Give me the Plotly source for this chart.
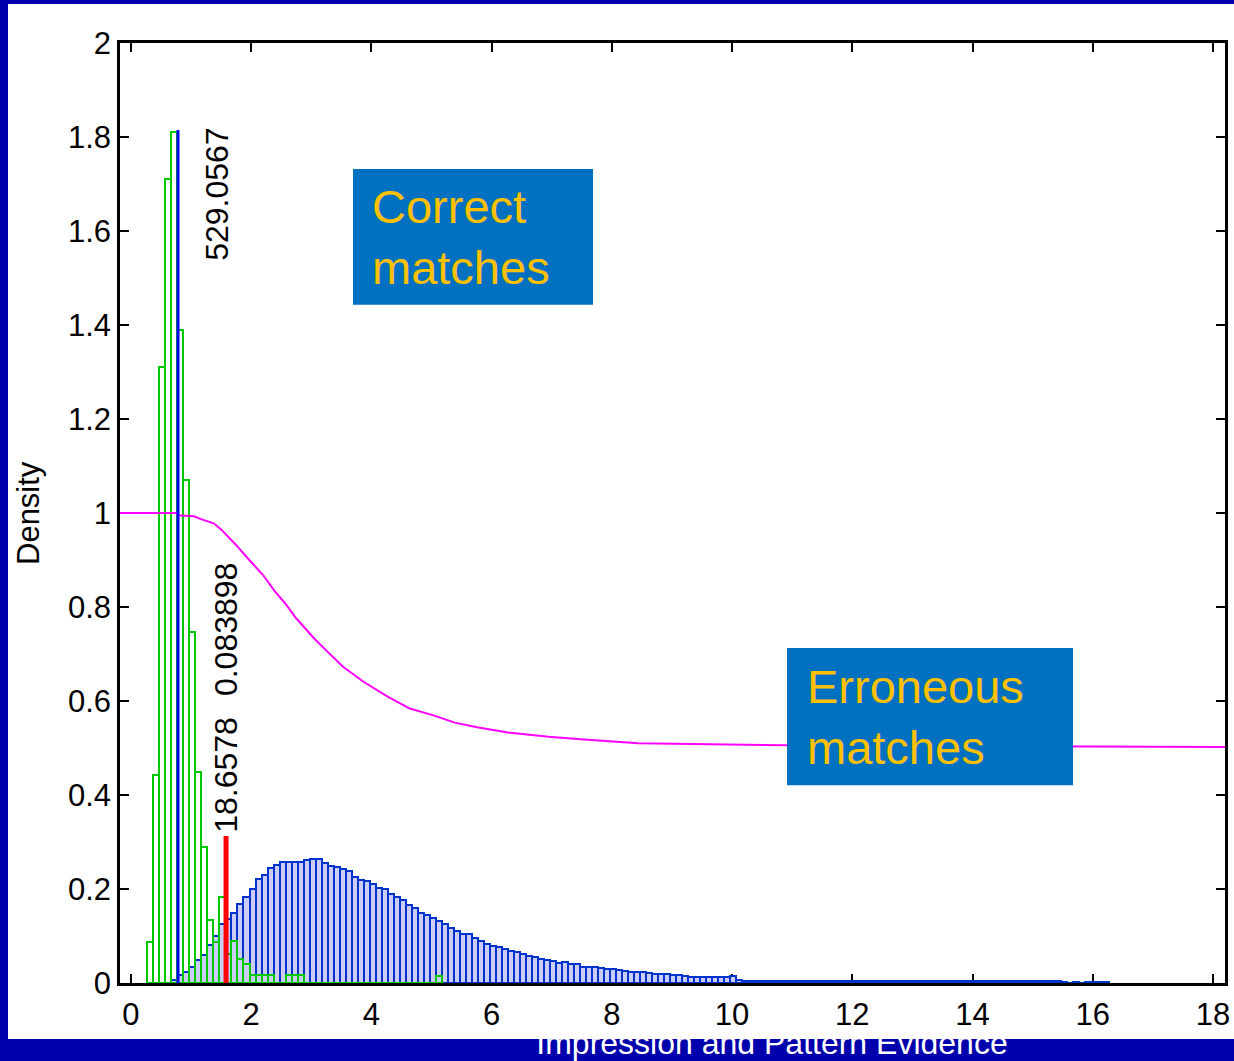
import plotly.graph_objects as go

W, H = 1234, 1061
FONT = "Liberation Sans, Arial, sans-serif"

# ---------------- data ----------------
# Correct matches histogram (green outlines), bin width 0.1 starting at centre 0.324
green_start = 0.324
green_width = 0.1
green_vals = [0.088, 0.443, 1.31, 1.71, 1.81, 1.39, 1.07, 0.746, 0.45, 0.29,
              0.133, 0.088, 0.182, 0.062, 0.09, 0.052, 0.04, 0.018, 0.018, 0.018,
              0.018, 0.0, 0.0, 0.018, 0.018, 0.018, 0.0, 0.0, 0.0, 0.0,
              0.0, 0.0, 0.0, 0.0, 0.0, 0.0, 0.0, 0.0, 0.0, 0.0,
              0.0, 0.0, 0.0, 0.0, 0.0, 0.0, 0.0, 0.0, 0.015]

# Erroneous matches histogram (blue filled), bin width 0.1 starting at centre 0.724
blue_start = 0.724
blue_width = 0.1
blue_vals = [0.006, 0.017, 0.024, 0.035, 0.05, 0.06, 0.08, 0.10, 0.125, 0.137,
             0.15, 0.168, 0.183, 0.2, 0.222, 0.229, 0.244, 0.252, 0.257, 0.258,
             0.258, 0.258, 0.262, 0.263, 0.263, 0.255, 0.25, 0.247, 0.243, 0.239,
             0.225, 0.219, 0.218, 0.21, 0.203, 0.199, 0.19, 0.184, 0.176, 0.166,
             0.159, 0.15, 0.144, 0.138, 0.131, 0.125, 0.116, 0.11, 0.105, 0.104,
             0.095, 0.089, 0.084, 0.078, 0.077, 0.072, 0.068, 0.066, 0.061, 0.057,
             0.055, 0.052, 0.049, 0.046, 0.043, 0.045, 0.04, 0.04, 0.034, 0.033,
             0.033, 0.031, 0.029, 0.029, 0.028, 0.025, 0.024, 0.024, 0.023, 0.021,
             0.019, 0.019, 0.019, 0.018, 0.018, 0.014, 0.013, 0.013, 0.013, 0.013,
             0.013, 0.013, 0.012, 0.014, 0.006, 0.004, 0.004, 0.004, 0.004, 0.004,
             0.004, 0.004, 0.004, 0.004, 0.004, 0.004, 0.004, 0.004, 0.004, 0.004,
             0.004, 0.004, 0.004, 0.004, 0.004, 0.004, 0.004, 0.004, 0.004, 0.004,
             0.004, 0.004, 0.004, 0.004, 0.004, 0.004, 0.004, 0.004, 0.004, 0.004,
             0.004, 0.004, 0.004, 0.004, 0.004, 0.004, 0.004, 0.004, 0.004, 0.004,
             0.004, 0.004, 0.004, 0.004, 0.004, 0.004, 0.004, 0.004, 0.003, 0.0,
             0.003, 0.0, 0.003, 0.003, 0.003, 0.003]

# Magenta ratio curve
curve_x = [-0.18, 0.77, 0.78, 1.05, 1.19, 1.38, 1.51, 1.75, 1.97, 2.20, 2.38, 2.565,
           2.75, 3.05, 3.27, 3.53, 3.87, 4.28, 4.64, 5.02, 5.39, 5.76, 6.27, 6.95,
           7.54, 8.44, 10.88, 18.2]
curve_y = [1.0, 1.0, 0.995, 0.993, 0.986, 0.978, 0.964, 0.932, 0.900, 0.868, 0.836, 0.808,
           0.776, 0.733, 0.705, 0.673, 0.641, 0.609, 0.584, 0.570, 0.554, 0.544, 0.533, 0.524,
           0.518, 0.510, 0.506, 0.502]

# Vertical markers
blue_line_x = [0.785, 0.785]
blue_line_y = [0.0, 1.815]
red_line_x = [1.584, 1.584]
red_line_y = [0.0, 0.313]

# Rotated labels
label_texts = ["529.0567", "0.083898", "18.6578"]
label_x = [1.434, 1.584, 1.584]
label_y = [1.677, 0.751, 0.443]

x_ticks = [0, 2, 4, 6, 8, 10, 12, 14, 16, 18]
y_ticks = [0, 0.2, 0.4, 0.6, 0.8, 1, 1.2, 1.4, 1.6, 1.8, 2]
y_ticktext = ["0", "0.2", "0.4", "0.6", "0.8", "1", "1.2", "1.4", "1.6", "1.8", "2"]

footer_text = "Impression and Pattern Evidence"

# ---------------- figure ----------------
fig = go.Figure()

fig.add_trace(go.Bar(
    x0=blue_start, dx=blue_width, y=blue_vals, width=blue_width,
    marker=dict(color="#CCCCF8", line=dict(color="#0033CC", width=2)),
    showlegend=False, hoverinfo="skip"))

fig.add_trace(go.Bar(
    x0=green_start, dx=green_width, y=green_vals, width=green_width,
    marker=dict(color="rgba(0,0,0,0)", line=dict(color="#00C800", width=2)),
    showlegend=False, hoverinfo="skip"))

fig.add_trace(go.Scatter(
    x=curve_x, y=curve_y, mode="lines",
    line=dict(color="#FF00FF", width=2), showlegend=False, hoverinfo="skip"))

fig.add_trace(go.Scatter(
    x=blue_line_x, y=blue_line_y, mode="lines",
    line=dict(color="#0000FF", width=3), showlegend=False, hoverinfo="skip"))

fig.add_trace(go.Scatter(
    x=red_line_x, y=red_line_y, mode="lines",
    line=dict(color="#FF0000", width=5), showlegend=False, hoverinfo="skip"))

# footer text, clipped by its own small subplot
fig.add_trace(go.Scatter(
    x=[772], y=[1046], mode="text", text=[footer_text],
    textfont=dict(family=FONT, size=32, color="white"),
    textposition="middle center", cliponaxis=True,
    xaxis="x2", yaxis="y2", showlegend=False, hoverinfo="skip"))

annotations = []
for t, xx, yy in zip(label_texts, label_x, label_y):
    annotations.append(dict(x=xx, y=yy, xref="x", yref="y", text=t, showarrow=False,
                            textangle=-90, xanchor="center", yanchor="middle",
                            font=dict(family=FONT, size=32, color="black")))

annotations.append(dict(x=3.98, y=1.587, xref="x", yref="y", text="Correct<br>matches",
                        showarrow=False, xanchor="left", yanchor="middle", align="left",
                        font=dict(family=FONT, size=47, color="#FFC000")))
annotations.append(dict(x=11.215, y=0.567, xref="x", yref="y", text="Erroneous<br>matches",
                        showarrow=False, xanchor="left", yanchor="middle", align="left",
                        font=dict(family=FONT, size=47, color="#FFC000")))
annotations.append(dict(x=28 / W, y=(H - 513) / H, xref="paper", yref="paper", text="Density",
                        showarrow=False, textangle=-90, xanchor="center", yanchor="middle",
                        font=dict(family=FONT, size=31, color="black")))

shapes = [
    dict(type="rect", xref="paper", yref="paper", x0=8 / W, x1=1, y0=(H - 1039) / H,
         y1=(H - 4) / H, fillcolor="white", line=dict(width=0), layer="below"),
    dict(type="rect", xref="x", yref="y", x0=3.696, x1=7.688, y0=1.443, y1=1.732,
         fillcolor="#0070C0", line=dict(width=0), layer="above"),
    dict(type="rect", xref="x", yref="y", x0=10.915, x1=15.672, y0=0.421, y1=0.713,
         fillcolor="#0070C0", line=dict(width=0), layer="above"),
]

axis_common = dict(showgrid=False, zeroline=False, showline=True, linecolor="black",
                   linewidth=2.5, ticks="inside", ticklen=9, tickwidth=2, tickcolor="black",
                   mirror="ticks", tickfont=dict(family=FONT, size=31, color="black"),
                   layer="below traces", automargin=False)

fig.update_layout(
    width=W, height=H,
    margin=dict(l=0, r=0, t=0, b=0, pad=0, autoexpand=False),
    paper_bgcolor="#0000AC",
    plot_bgcolor="rgba(0,0,0,0)",
    barmode="overlay",
    bargap=0,
    xaxis=dict(domain=[120 / W, 1225 / W], range=[-0.18, 18.2], tickvals=x_ticks,
               ticklabelstandoff=2, **axis_common),
    yaxis=dict(domain=[(H - 983) / H, (H - 43) / H], range=[0, 2], tickvals=y_ticks,
               ticktext=y_ticktext, ticklabelstandoff=0, **axis_common),
    xaxis2=dict(domain=[0, 1], range=[0, W], visible=False, anchor="y2", automargin=False),
    yaxis2=dict(domain=[0, (H - 1039) / H], range=[H, 1039], visible=False, anchor="x2",
                automargin=False),
    annotations=annotations,
    shapes=shapes,
)

fig.write_html("out.html", config={"displayModeBar": False})
